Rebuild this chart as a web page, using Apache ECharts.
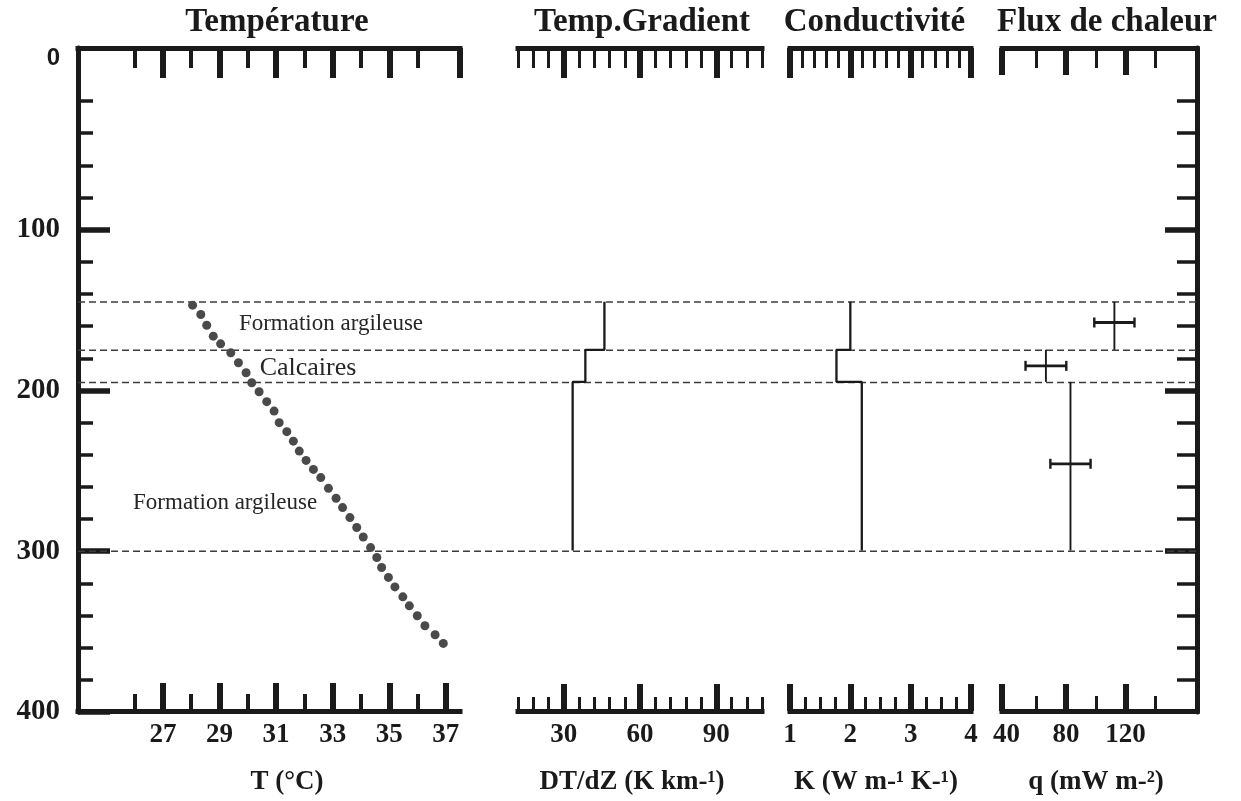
<!DOCTYPE html>
<html><head><meta charset="utf-8">
<script src="https://cdn.jsdelivr.net/npm/echarts@6/dist/echarts.min.js"></script>
<style>html,body{margin:0;padding:0;background:#fff}#c{width:1241px;height:801px}</style>
</head><body><div id="c"></div>
<script>
// ---------------- data ----------------
const depthMin = -13, depthMax = 400;
const depthLabelTicks = [0, 100, 200, 300, 400];
const depthMajorTicks = [100, 200, 300, 400];
const depthMinorTicks = [20, 40, 60, 80, 120, 140, 160, 180, 220, 240, 260, 280, 320, 340, 360, 380];
const boundaryDepths = [145, 175, 195, 300];

const tempDepths = [147.2, 153.0, 159.7, 166.5, 171.3, 176.9, 183.1, 189.3, 195.5, 201.1, 207.3, 213.2,
  220.4, 226.0, 231.9, 238.1, 243.9, 249.5, 254.6, 261.3, 267.5, 273.3, 279.5, 285.7, 291.6, 298.2,
  304.4, 310.6, 316.8, 322.7, 328.9, 334.5, 340.7, 346.9, 352.5, 357.9];
const tempValues = [28.05, 28.34, 28.55, 28.78, 29.04, 29.40, 29.67, 29.94, 30.14, 30.40, 30.67, 30.93,
  31.11, 31.38, 31.61, 31.82, 32.06, 32.32, 32.58, 32.85, 33.12, 33.35, 33.61, 33.85, 34.08, 34.34,
  34.56, 34.73, 34.97, 35.20, 35.48, 35.71, 35.99, 36.26, 36.62, 36.91];
const tempRange = [24, 37.5];
const tempTopMajorTicks = [27, 29, 31, 33, 35, 37.5];
const tempBottomMajorTicks = [27, 29, 31, 33, 35, 37];
const tempMinorTicks = [26, 28, 30, 32, 34, 36];
const tempLabels = [27, 29, 31, 33, 35, 37];

const gradDepths = [145, 175, 175, 195, 195, 300];
const gradValues = [46, 46, 38.5, 38.5, 33.5, 33.5];
const gradRange = [12, 108];
const gradMajorTicks = [30, 60, 90];
const gradMinorTicks = [12, 18, 24, 36, 42, 48, 54, 66, 72, 78, 84, 96, 102, 108];
const gradLabels = [30, 60, 90];

const condDepths = [145, 175, 175, 195, 195, 300];
const condValues = [2.0, 2.0, 1.77, 1.77, 2.19, 2.19];
const condRange = [1, 4];
const condMajorTicks = [1, 2, 3, 4];
const condTopMinorTicks = [1.2, 1.4, 1.6, 1.8, 2.2, 2.4, 2.6, 2.8, 3.2, 3.4, 3.6, 3.8];
const condBottomMinorTicks = [1.25, 1.5, 1.75, 2.25, 2.5, 2.75, 3.25, 3.5, 3.75];
const condLabels = [1, 2, 3, 4];

const fluxValues = [112.5, 66.5, 83];
const fluxErrors = [13.5, 13.7, 13.5];
const fluxTopDepths = [145, 175, 195];
const fluxBottomDepths = [175, 195, 300];
const fluxMidDepths = [158, 185, 246];
const fluxRange = [37, 168];
const fluxMajorTicks = [37, 80, 120];
const fluxMinorTicks = [60, 100, 140];
const fluxLabels = [40, 80, 120];

const layerNames = ['Formation argileuse', 'Calcaires', 'Formation argileuse'];
const layerLabelDepths = [158.6, 186.6, 270.6];
const layerLabelTemps = [32.94, 32.13, 29.2];

const titles = ['Température', 'Temp.Gradient', 'Conductivité', 'Flux de chaleur'];
const axisNames = ['T (°C)', 'DT/dZ (K km-¹)', 'K (W m-¹ K-¹)', 'q (mW m-²)'];

// ---------------- layout / style ----------------
const FONT = 'Liberation Serif';
const INK = '#1a1a1a';
const TOP = 48, BOTTOM = 89;

const panels = [
  { left: 78, width: 382, range: tempRange,
    top: { major: tempTopMajorTicks, minor: tempMinorTicks, majLen: 30, minLen: 20 },
    bottom: { major: tempBottomMajorTicks, minor: tempMinorTicks, majLen: 28, minLen: 17 },
    labels: tempLabels, minorW: 4, titlePad: [0, 0, 0, 16], namePad: [0, 0, 0, 36] },
  { left: 518, width: 244, range: gradRange,
    top: { major: gradMajorTicks, minor: gradMinorTicks, majLen: 30, minLen: 20 },
    bottom: { major: gradMajorTicks, minor: gradMinorTicks, majLen: 27, minLen: 14 },
    labels: gradLabels, minorW: 3, titlePad: [0, 0, 0, 4], namePad: [0, 16, 0, 0] },
  { left: 790, width: 181, range: condRange,
    top: { major: condMajorTicks, minor: condTopMinorTicks, majLen: 30, minLen: 20 },
    bottom: { major: condMajorTicks, minor: condBottomMinorTicks, majLen: 27, minLen: 14 },
    labels: condLabels, minorW: 3, titlePad: [0, 12, 0, 0], namePad: [0, 9, 0, 0] },
  { left: 1002, width: 195, range: fluxRange,
    top: { major: fluxMajorTicks, minor: fluxMinorTicks, majLen: 27, minLen: 20 },
    bottom: { major: fluxMajorTicks, minor: fluxMinorTicks, majLen: 27, minLen: 15 },
    labels: fluxLabels, minorW: 3, titlePad: [0, 0, 0, 15], namePad: [0, 7, 0, 0] }
];

function xAxis(grid, pos, range, o) {
  return {
    type: 'value', gridIndex: grid, position: pos, min: range[0], max: range[1],
    axisLine: { show: !!o.line, onZero: false, lineStyle: { color: INK, width: 5, cap: 'square' } },
    axisTick: { show: true, inside: true, length: o.len, customValues: o.ticks, lineStyle: { color: INK, width: o.w } },
    axisLabel: o.labels ? { show: true, customValues: o.labels, margin: 11, color: INK, fontFamily: FONT, fontWeight: 'bold', fontSize: 27 } : { show: false },
    splitLine: { show: false },
    name: o.name || '', nameLocation: 'middle', nameGap: o.gap || 0,
    nameTextStyle: o.nameStyle || {}
  };
}

const grids = [{ left: 78, right: 44, top: TOP, bottom: BOTTOM }];
panels.forEach(p => grids.push({ left: p.left, width: p.width, top: TOP, bottom: BOTTOM }));

const xAxes = [{ type: 'value', gridIndex: 0, min: 0, max: 1, show: false }];
panels.forEach((p, i) => {
  const g = i + 1;
  xAxes.push(xAxis(g, 'top', p.range, { line: true, len: p.top.minLen, w: p.minorW, ticks: p.top.minor }));
  xAxes.push(xAxis(g, 'top', p.range, { line: false, len: p.top.majLen, w: 6, ticks: p.top.major,
    name: titles[i], gap: 9,
    nameStyle: { fontFamily: FONT, fontWeight: 'bold', fontSize: 33, color: INK, padding: p.titlePad } }));
  xAxes.push(xAxis(g, 'bottom', p.range, { line: true, len: p.bottom.minLen, w: p.minorW, ticks: p.bottom.minor }));
  xAxes.push(xAxis(g, 'bottom', p.range, { line: false, len: p.bottom.majLen, w: 6, ticks: p.bottom.major,
    labels: p.labels, name: axisNames[i], gap: 58,
    nameStyle: { fontFamily: FONT, fontWeight: 'bold', fontSize: 27, color: INK, padding: p.namePad } }));
});
const dataX = i => 4 + 4 * i; // bottom-major axis of panel i

function yAxis(grid, pos, o) {
  return {
    type: 'value', gridIndex: grid, position: pos, inverse: true, min: depthMin, max: depthMax,
    axisLine: { show: !!o.line, onZero: false, lineStyle: { color: INK, width: 5 } },
    axisTick: { show: !!o.ticks, inside: true, length: o.len || 0, customValues: o.ticks, lineStyle: { color: INK, width: o.w || 1 } },
    axisLabel: o.labels ? {
      show: true, customValues: o.labels, margin: 18, color: INK, fontFamily: FONT, fontWeight: 'bold', fontSize: 29,
      formatter: v => v === 0 ? '{z|0}' : String(v),
      rich: { z: { fontFamily: 'Liberation Sans', fontWeight: 'bold', fontSize: 24, color: INK, padding: [0, 0, 22, 0] } }
    } : { show: false },
    splitLine: { show: false }
  };
}
const yAxes = [
  yAxis(0, 'left', { line: true, ticks: depthMinorTicks, len: 15, w: 3.5, labels: depthLabelTicks }),
  yAxis(0, 'left', { line: false, ticks: depthMajorTicks, len: 32, w: 5.5 }),
  yAxis(0, 'right', { line: true, ticks: depthMinorTicks, len: 20, w: 3.5 }),
  yAxis(0, 'right', { line: false, ticks: depthMajorTicks.slice(0, 3), len: 32, w: 5.5 })
];
panels.forEach((p, i) => yAxes.push(Object.assign(yAxis(i + 1, 'left', {}), { show: false })));

const series = [];
boundaryDepths.forEach(d => series.push({
  type: 'line', xAxisIndex: 0, yAxisIndex: 0, symbol: 'none', silent: true, z: 1,
  data: [[0, d], [1, d]],
  lineStyle: { color: '#3c3c3c', width: 1.5, type: [7, 4] }
}));
series.push({
  type: 'scatter', xAxisIndex: dataX(0), yAxisIndex: 4, symbolSize: 9, z: 3,
  itemStyle: { color: '#4a4a4a', opacity: 1 },
  data: tempValues.map((t, i) => [t, tempDepths[i]])
});
series.push({
  type: 'line', xAxisIndex: dataX(1), yAxisIndex: 5, symbol: 'none', z: 3,
  lineStyle: { color: INK, width: 2.3 },
  data: gradValues.map((v, i) => [v, gradDepths[i]])
});
series.push({
  type: 'line', xAxisIndex: dataX(2), yAxisIndex: 6, symbol: 'none', z: 3,
  lineStyle: { color: INK, width: 2.3 },
  data: condValues.map((v, i) => [v, condDepths[i]])
});
series.push({
  type: 'custom', xAxisIndex: dataX(3), yAxisIndex: 7, z: 3,
  encode: { x: [0], y: [2, 3, 4] },
  data: fluxValues.map((q, i) => [q, fluxErrors[i], fluxTopDepths[i], fluxBottomDepths[i], fluxMidDepths[i]]),
  renderItem: function (params, api) {
    const q = api.value(0), e = api.value(1);
    const a = api.coord([q, api.value(2)]), b = api.coord([q, api.value(3)]);
    const l = api.coord([q - e, api.value(4)]), r = api.coord([q + e, api.value(4)]);
    const st = w => ({ stroke: INK, lineWidth: w });
    return { type: 'group', children: [
      { type: 'line', shape: { x1: a[0], y1: a[1], x2: b[0], y2: b[1] }, style: st(1.9) },
      { type: 'line', shape: { x1: l[0], y1: l[1], x2: r[0], y2: r[1] }, style: st(2.8) },
      { type: 'line', shape: { x1: l[0], y1: l[1] - 5, x2: l[0], y2: l[1] + 5 }, style: st(2.4) },
      { type: 'line', shape: { x1: r[0], y1: r[1] - 5, x2: r[0], y2: r[1] + 5 }, style: st(2.4) }
    ] };
  }
});
series.push({
  type: 'scatter', xAxisIndex: dataX(0), yAxisIndex: 4, symbolSize: 0, z: 4, silent: true,
  data: layerNames.map((n, i) => ({
    name: n, value: [layerLabelTemps[i], layerLabelDepths[i]],
    label: { fontSize: n === 'Calcaires' ? 26 : 23 }
  })),
  label: { show: true, position: 'inside', formatter: '{b}', color: '#262626', textBorderWidth: 0, opacity: 1,
    fontFamily: FONT, fontSize: 23 }
});

const chart = echarts.init(document.getElementById('c'), null, { renderer: 'canvas' });
chart.setOption({
  animation: false,
  backgroundColor: '#fff',
  grid: grids,
  xAxis: xAxes,
  yAxis: yAxes,
  series: series
});
</script></body></html>
